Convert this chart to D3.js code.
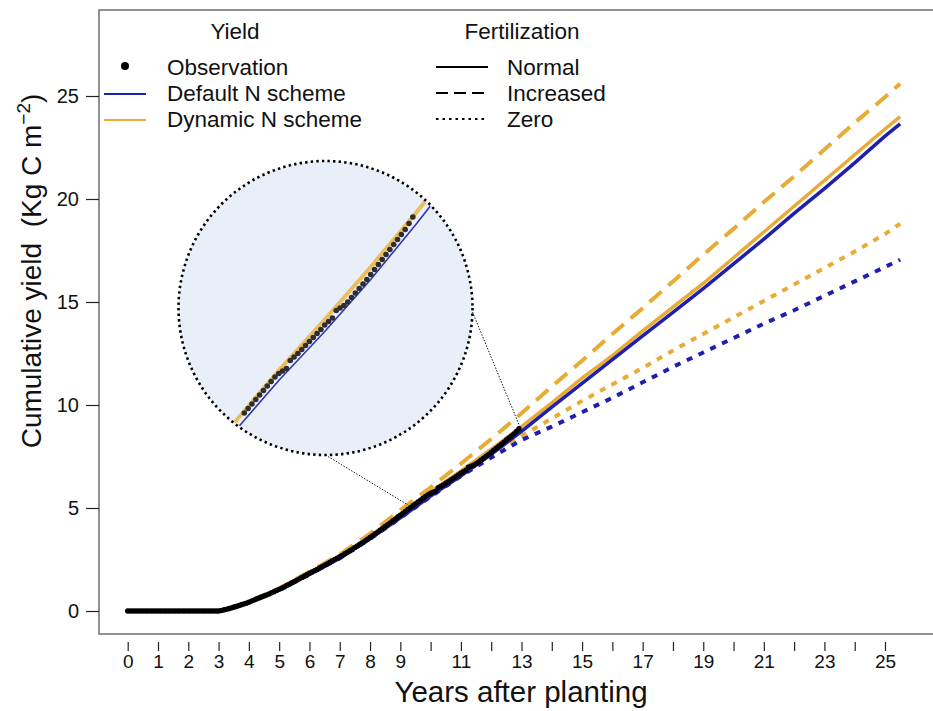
<!DOCTYPE html>
<html>
<head>
<meta charset="utf-8">
<script src="https://cdn.jsdelivr.net/npm/d3@7"></script>
<style>
  body { margin: 0; background: #fff; }
  svg { font-family: Arial, "Liberation Sans", sans-serif; }
</style>
</head>
<body>
<svg id="chart" width="933" height="711"></svg>
<script>
// model output, one value per year (last point at 25.5 years)
const modelYears = [0, 1, 2, 3, 4, 5, 6, 7, 8, 9, 10, 11, 12, 13, 14, 15, 16, 17, 18, 19, 20, 21, 22, 23, 24, 25, 25.5];
const defaultNormal = [0, 0, 0, 0, 0.42, 1.02, 1.78, 2.56, 3.5, 4.52, 5.58, 6.56, 7.6, 8.72, 9.9, 11.05, 12.2, 13.35, 14.5, 15.65, 16.85, 18.05, 19.3, 20.5, 21.75, 23.05, 23.65];
const defaultZero = [0, 0, 0, 0, 0.42, 1.02, 1.78, 2.56, 3.5, 4.52, 5.55, 6.55, 7.45, 8.3, 8.95, 9.65, 10.35, 11.1, 11.85, 12.55, 13.25, 13.95, 14.6, 15.3, 16.0, 16.7, 17.05];
const dynamicNormal = [0, 0, 0, 0, 0.43, 1.06, 1.84, 2.65, 3.62, 4.7, 5.78, 6.8, 7.85, 8.95, 10.1, 11.3, 12.4, 13.6, 14.75, 15.9, 17.15, 18.4, 19.65, 20.9, 22.15, 23.4, 24.0];
const dynamicIncreased = [0, 0, 0, 0, 0.45, 1.1, 1.9, 2.75, 3.75, 4.9, 6.0, 7.15, 8.35, 9.6, 10.9, 12.15, 13.45, 14.7, 16.0, 17.3, 18.55, 19.85, 21.1, 22.4, 23.7, 24.95, 25.6];
const dynamicZero = [0, 0, 0, 0, 0.43, 1.06, 1.84, 2.65, 3.6, 4.68, 5.75, 6.75, 7.7, 8.5, 9.35, 10.2, 11.0, 11.8, 12.65, 13.45, 14.25, 15.05, 15.85, 16.65, 17.45, 18.3, 18.8];

// observed cumulative yield, monthly (one row per year)
const observed = [
  0, 0, 0, 0, 0, 0, 0, 0, 0, 0, 0, 0,
  0, 0, 0, 0, 0, 0, 0, 0, 0, 0, 0, 0,
  0, 0, 0, 0, 0, 0, 0, 0, 0, 0, 0, 0,
  0, 0.02, 0.05, 0.08, 0.11, 0.14, 0.18, 0.22, 0.26, 0.30, 0.34, 0.38,
  0.43, 0.48, 0.53, 0.58, 0.63, 0.68, 0.73, 0.78, 0.83, 0.89, 0.94, 1.0,
  1.05, 1.11, 1.17, 1.24, 1.30, 1.37, 1.43, 1.50, 1.56, 1.63, 1.70, 1.76,
  1.83, 1.89, 1.96, 2.02, 2.09, 2.15, 2.22, 2.29, 2.36, 2.43, 2.50, 2.56,
  2.63, 2.70, 2.78, 2.85, 2.93, 3.00, 3.08, 3.16, 3.24, 3.32, 3.40, 3.48,
  3.57, 3.66, 3.75, 3.83, 3.92, 4.01, 4.10, 4.19, 4.28, 4.37, 4.46, 4.56,
  4.65, 4.74, 4.83, 4.93, 5.02, 5.11, 5.20, 5.29, 5.38, 5.47, 5.56, 5.65,
  5.72, 5.77, 5.82, 5.98, 6.05, 6.12, 6.20, 6.28, 6.36, 6.44, 6.52, 6.60,
  6.69, 6.76, 6.83, 6.98, 7.03, 7.08, 7.15, 7.24, 7.33, 7.42, 7.51, 7.60,
  7.70, 7.80, 7.90, 8.00, 8.10, 8.20, 8.30, 8.40, 8.50, 8.60, 8.72, 8.85
];

const xTicks = d3.range(0, 26);
const xTickLabels = ['0', '1', '2', '3', '4', '5', '6', '7', '8', '9', '', '11', '', '13', '', '15', '', '17', '', '19', '', '21', '', '23', '', '25'];
const yTicks = [0, 5, 10, 15, 20, 25];

// zoomed window shown in the circle (years, yield)
const zoomYears = [9.2, 12.92];
const zoomYield = [4.85, 8.85];
const zoomAnchors = [[9.25, 5.15], [12.95, 8.93]];

const blue = '#1f1fae';
const orange = '#e8ab35';

const svg = d3.select('#chart');

const x = d3.scaleLinear().domain([0, 25]).range([127.7, 885]);
const y = d3.scaleLinear().domain([0, 25]).range([611, 96]);

const modelSeries = [
  { values: dynamicIncreased, color: orange, dash: '16,9' },
  { values: dynamicZero, color: orange, dash: '6,7' },
  { values: defaultZero, color: blue, dash: '6,7' },
  { values: dynamicNormal, color: orange, dash: null },
  { values: defaultNormal, color: blue, dash: null },
];

const obsData = observed.map((v, i) => ({ t: i / 12, v }));

// plot frame
svg.append('rect')
  .attr('x', 99)
  .attr('y', 10)
  .attr('width', 900)
  .attr('height', 624)
  .attr('fill', 'none')
  .attr('stroke', '#6e6e6e')
  .attr('stroke-width', 1.5);

// inset background
const cx = 325.5;
const cy = 308;
const r = 147;
svg.append('circle')
  .attr('cx', cx)
  .attr('cy', cy)
  .attr('r', r)
  .attr('fill', '#e8eff8');

// model lines
const line = d3.line()
  .x(d => x(d[0]))
  .y(d => y(d[1]));

svg.selectAll('.model')
  .data(modelSeries)
  .enter().append('path')
  .attr('class', 'model')
  .attr('d', s => line(modelYears.map((t, i) => [t, s.values[i]])))
  .attr('fill', 'none')
  .attr('stroke', s => s.color)
  .attr('stroke-width', s => (s.dash ? 4 : 3.5))
  .attr('stroke-dasharray', s => s.dash);

// observations
svg.selectAll('.obs')
  .data(obsData)
  .enter().append('circle')
  .attr('class', 'obs')
  .attr('cx', d => x(d.t))
  .attr('cy', d => y(d.v))
  .attr('r', 2.7)
  .attr('fill', '#000');

// connectors between the zoomed region and the circle
const connectorEnds = [
  [[cx, cy + r], zoomAnchors[0]],
  [[cx + r, cy + 4], zoomAnchors[1]],
];
svg.selectAll('.connector')
  .data(connectorEnds)
  .enter().append('line')
  .attr('class', 'connector')
  .attr('x1', d => d[0][0])
  .attr('y1', d => d[0][1])
  .attr('x2', d => x(d[1][0]))
  .attr('y2', d => y(d[1][1]))
  .attr('stroke', '#000')
  .attr('stroke-width', 0.9)
  .attr('stroke-dasharray', '1.5,1.5');

// inset content
svg.append('clipPath')
  .attr('id', 'inset-clip')
  .append('circle')
  .attr('cx', cx)
  .attr('cy', cy)
  .attr('r', r - 1);

const xIn = d3.scaleLinear().domain(zoomYears).range([242, 413]);
const yIn = d3.scaleLinear().domain(zoomYield).range([417, 217]);
const lineIn = d3.line()
  .x(d => xIn(d[0]))
  .y(d => yIn(d[1]));

const inset = svg.append('g').attr('clip-path', 'url(#inset-clip)');

inset.append('path')
  .attr('d', lineIn(modelYears.map((t, i) => [t, dynamicNormal[i]])))
  .attr('fill', 'none')
  .attr('stroke', '#ecbd5c')
  .attr('stroke-width', 4);

inset.append('path')
  .attr('d', lineIn(modelYears.map((t, i) => [t, defaultNormal[i]])))
  .attr('fill', 'none')
  .attr('stroke', '#3434b8')
  .attr('stroke-width', 1.6);

inset.selectAll('.obs-in')
  .data(obsData.filter(d => d.t >= zoomYears[0] - 0.01 && d.t <= zoomYears[1] + 0.01))
  .enter().append('circle')
  .attr('class', 'obs-in')
  .attr('cx', d => xIn(d.t))
  .attr('cy', d => yIn(d.v))
  .attr('r', 2.8)
  .attr('fill', '#2e2e2e');

svg.append('circle')
  .attr('cx', cx)
  .attr('cy', cy)
  .attr('r', r)
  .attr('fill', 'none')
  .attr('stroke', '#000')
  .attr('stroke-width', 2.6)
  .attr('stroke-dasharray', '2.4,3.2');

// x axis (ticks only, below the frame)
const xAxis = d3.axisBottom(x)
  .tickValues(xTicks)
  .tickSize(9)
  .tickPadding(4)
  .tickFormat((d, i) => xTickLabels[i]);

const gx = svg.append('g')
  .attr('transform', 'translate(0,642)')
  .call(xAxis);
gx.select('.domain').remove();
gx.selectAll('line').attr('stroke', '#222').attr('stroke-width', 1.2);
gx.selectAll('text')
  .attr('font-size', 19)
  .attr('font-family', 'Arial, "Liberation Sans", sans-serif')
  .attr('fill', '#111');

// y axis
const yAxis = d3.axisLeft(y)
  .tickValues(yTicks)
  .tickSize(13)
  .tickPadding(7);

const gy = svg.append('g')
  .attr('transform', 'translate(99,0)')
  .call(yAxis);
gy.select('.domain').remove();
gy.selectAll('line').attr('stroke', '#222').attr('stroke-width', 1.2);
gy.selectAll('text')
  .attr('font-size', 20)
  .attr('font-family', 'Arial, "Liberation Sans", sans-serif')
  .attr('fill', '#111');

// axis titles
svg.append('text')
  .attr('x', 521)
  .attr('y', 702)
  .attr('text-anchor', 'middle')
  .attr('font-size', 29.5)
  .attr('fill', '#111')
  .text('Years after planting');

const yTitle = svg.append('text')
  .attr('transform', 'translate(41,271) rotate(-90)')
  .attr('text-anchor', 'middle')
  .attr('font-size', 28)
  .attr('fill', '#111')
  .style('white-space', 'pre');
yTitle.append('tspan').text('Cumulative yield  (Kg C m');
yTitle.append('tspan').attr('font-size', 19).attr('dy', -11).text('\u22122');
yTitle.append('tspan').attr('dy', 11).text(')');

// legend
const legend = svg.append('g')
  .attr('font-size', 22.5)
  .attr('fill', '#111');

legend.append('text').attr('x', 235).attr('y', 39).attr('text-anchor', 'middle').text('Yield');
legend.append('text').attr('x', 522).attr('y', 39).attr('text-anchor', 'middle').text('Fertilization');

const yieldItems = [
  { label: 'Observation', type: 'dot', color: '#000' },
  { label: 'Default N scheme', type: 'line', color: blue },
  { label: 'Dynamic N scheme', type: 'line', color: orange },
];
const fertItems = [
  { label: 'Normal', dash: null },
  { label: 'Increased', dash: '12,6' },
  { label: 'Zero', dash: '2.5,4' },
];
const rowY = [75, 101, 127];

yieldItems.forEach((item, i) => {
  if (item.type === 'dot') {
    legend.append('circle')
      .attr('cx', 125)
      .attr('cy', rowY[i] - 9)
      .attr('r', 4)
      .attr('fill', item.color);
  } else {
    legend.append('line')
      .attr('x1', 104)
      .attr('x2', 146)
      .attr('y1', rowY[i] - 7)
      .attr('y2', rowY[i] - 7)
      .attr('stroke', item.color)
      .attr('stroke-width', 2);
  }
  legend.append('text').attr('x', 167).attr('y', rowY[i]).text(item.label);
});

fertItems.forEach((item, i) => {
  legend.append('line')
    .attr('x1', 436)
    .attr('x2', 488)
    .attr('y1', rowY[i] - 8)
    .attr('y2', rowY[i] - 8)
    .attr('stroke', '#000')
    .attr('stroke-width', 2)
    .attr('stroke-dasharray', item.dash);
  legend.append('text').attr('x', 507).attr('y', rowY[i]).text(item.label);
});
</script>
</body>
</html>
